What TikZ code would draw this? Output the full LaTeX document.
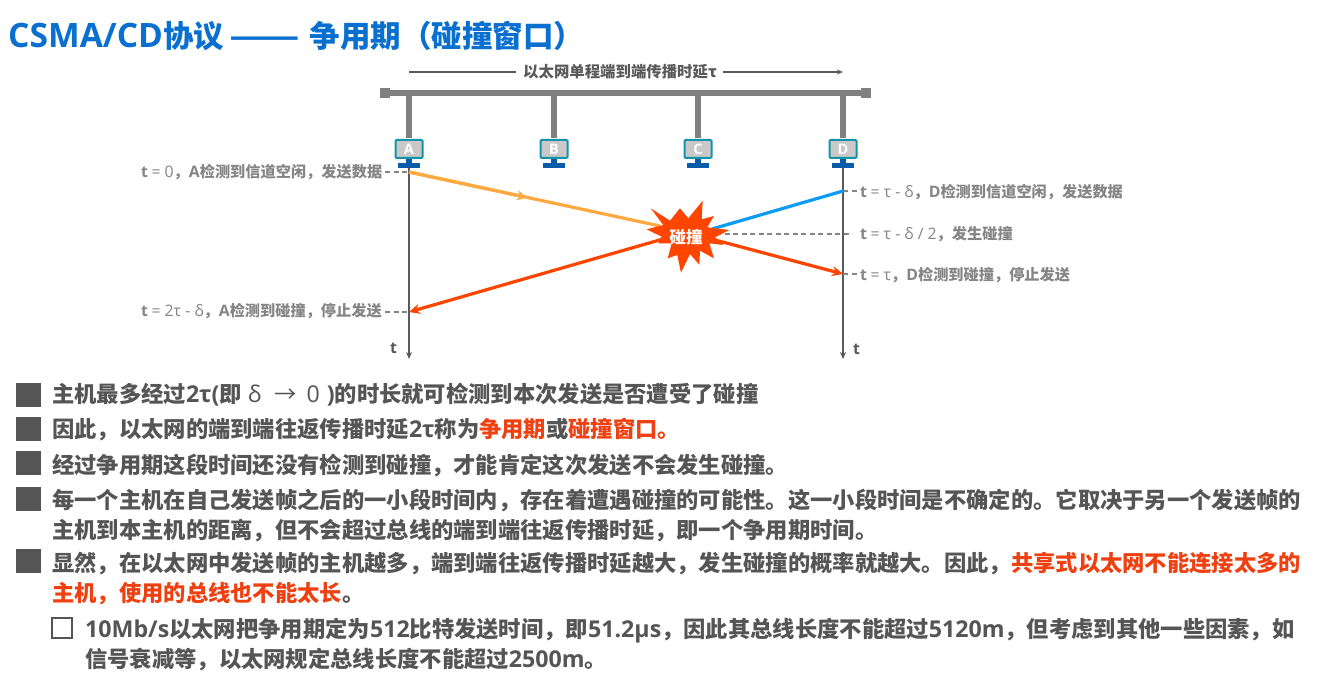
\documentclass[tikz,border=0pt]{standalone}
\usepackage{fontspec}
\usepackage{graphicx}
\setmainfont{Noto Sans CJK SC}
\newfontfamily\latf[Scale=1.04]{Open Sans}
\newcommand{\lat}[1]{{\latf #1}}
\definecolor{titleblue}{HTML}{0A70D0}
\definecolor{bodygray}{HTML}{555555}
\definecolor{labgray}{HTML}{858585}
\definecolor{busgray}{HTML}{808080}
\definecolor{axisgray}{HTML}{595959}
\definecolor{hot}{HTML}{FF4500}
\definecolor{hottext}{HTML}{EE4010}
\definecolor{amber}{HTML}{FFA940}
\definecolor{sky}{HTML}{0A9BF5}
\definecolor{teal0}{HTML}{1593A8}
\definecolor{screen0}{HTML}{C9C9C9}
\definecolor{navy0}{HTML}{0B5CA8}
\usetikzlibrary{arrows.meta}
\tikzset{
  x=1pt,y=-1pt,
  titlet/.style={anchor=base west,inner sep=0,font=\bfseries\fontsize{30.5}{31}\selectfont,text=titleblue},
  bodyt/.style={anchor=base west,inner sep=0,font=\bfseries\fontsize{22.3}{23}\selectfont,text=bodygray},
  labt/.style={anchor=base west,inner sep=0,font=\bfseries\fontsize{15.2}{16}\selectfont,text=labgray},
  bullet/.style={fill=bodygray,draw=none,minimum width=25pt,minimum height=24pt,inner sep=0},
  busline/.style={draw=busgray,line width=6pt},
  axisline/.style={draw=axisgray,line width=1.6pt,-{Stealth[length=7pt,width=6pt]}},
  dashl/.style={draw=labgray,line width=1.2pt,dash pattern=on 5pt off 3.5pt},
  thick0/.style={line width=3.2pt},
  tipp/.style={-{Stealth[length=11pt,width=10pt]}},
}
\newcommand{\mon}[3]{% name, x, letter
  \coordinate (#1top) at (#2,138);
  \draw[busline] (#2,93) -- (#1top);
  \fill[navy0] (#2-11,163.5) rectangle (#2+11,168);
  \fill[navy0] (#2-3,158) rectangle (#2+3,165);
  \node[draw=teal0,line width=2pt,fill=screen0,rounded corners=1pt,minimum width=27pt,minimum height=18pt,inner sep=0,text=white,font=\bfseries\fontsize{14}{14}\selectfont\latf] (#1) at (#2,149) {#3};
}
\begin{document}
\begin{tikzpicture}
\useasboundingbox (0,0) rectangle (1320,674);
\fill[white] (0,0) rectangle (1320,674);
\node[titlet] (title) at (8,48) {{\fontsize{32.3}{33}\selectfont\lat{CSMA/CD}}协议\hspace{5pt}\scalebox{1.35}[1]{——}\hspace{10pt}争用期（碰撞窗口）};
% bus
\node[fill=busgray,minimum width=10pt,minimum height=10pt,inner sep=0] (busL) at (385,93) {};
\node[fill=busgray,minimum width=10pt,minimum height=10pt,inner sep=0] (busR) at (866,93) {};
\draw[busline] (busL) -- (busR);
\mon{A}{409}{A}\mon{B}{554}{B}\mon{C}{698}{C}\mon{D}{843}{D}
% top span
\node[anchor=center,inner sep=0,font=\bfseries\fontsize{15.4}{16}\selectfont,text=axisgray] (span) at (620,72) {以太网单程端到端传播时延τ};
\coordinate (spanL) at (409,72);\coordinate (spanR) at (843,72);
\draw[draw=axisgray,line width=1.2pt] (spanL) -- (516,72);
\draw[draw=axisgray,line width=1.2pt,-{Stealth[length=6pt,width=5pt]}] (723,72) -- (spanR);
% axes
\coordinate (Aend) at (409,359);\coordinate (Dend) at (843,359);
\draw[axisline] (A.south |- 0,168) -- (Aend);
\draw[axisline] (D.south |- 0,168) -- (Dend);
\node[labt,text=axisgray] (tA) at (390,353) {\lat{t}};
\node[labt,text=axisgray] (tD) at (853,354) {\lat{t}};
% events
\coordinate (a0) at (409,172);\coordinate (a1) at (409,312);
\coordinate (d0) at (843,191);\coordinate (d1) at (843,274);
\coordinate (hitL) at (660,226);\coordinate (hitR) at (712,229);
\coordinate (mid) at (716,234);
\draw[dashl] (385,172) -- (a0);
\draw[dashl] (385,312) -- (a1);
\draw[dashl] (d0) -- (858,191);
\draw[dashl] (mid) -- (852,234);
\draw[dashl] (d1) -- (858,274);
\draw[amber,thick0] (a0) -- (hitL);
\draw[amber,thick0,-{Stealth[length=10pt,width=10pt]}] (a0) -- (527,197.5);
\draw[sky,thick0] (d0) -- (hitR);
\draw[hot,thick0,tipp] (700,236) -- (d1);
\draw[hot,thick0,tipp] (670,237) -- (a1);
% burst
\fill[hot] (650.7,208.3)--(670,220.7)--(680,208.3)--(688.3,218.3)--(702.7,200.7)--(701.7,219.3)--(714,216)--(707.3,227.3)--(729.3,230)--(715,237.3)--(723.3,245)--(709.3,243.3)--(714,258.3)--(700,250.7)--(699.3,264.7)--(690,254)--(681,272.7)--(677.3,255)--(667.7,258.3)--(671.7,243.3)--(658.3,243.3)--(661.7,236.7)--(646.7,229.3)--(663.3,225)--cycle;
\node[inner sep=0,text=white,font=\bfseries\fontsize{16.5}{17}\selectfont] (burst) at (686,237) {碰撞};
% labels
\node[labt] (l1) at (141,177) {\lat{t} \mdseries\lat{= 0}\bfseries，\lat{A}检测到信道空闲，发送数据};
\node[labt] (l2) at (141,316) {\lat{t} \mdseries\lat{= 2τ - δ}\bfseries，\lat{A}检测到碰撞，停止发送};
\node[labt] (l3) at (860,197) {\lat{t} \mdseries\lat{= τ - δ}\bfseries，\lat{D}检测到信道空闲，发送数据};
\node[labt] (l4) at (860,239) {\lat{t} \mdseries\lat{= τ - δ / 2}\bfseries，发生碰撞};
\node[labt] (l5) at (860,280) {\lat{t} \mdseries\lat{= τ}\bfseries，\lat{D}检测到碰撞，停止发送};
% bullets
\node[bullet] (b1) at (28.5,394.5) {};
\node[bullet] (b2) at (28.5,429) {};
\node[bullet] (b3) at (28.5,463) {};
\node[bullet] (b4) at (28.5,499) {};
\node[bullet] (b5) at (28.5,561) {};
\node[draw=bodygray,line width=2.8pt,minimum width=20pt,minimum height=20pt,inner sep=0] (b6) at (62,628) {};
% body text
\node[bodyt] (t1) at (52,402) {主机最多经过\lat{2τ(}即\hspace{6pt}\mdseries\lat{δ}\hspace{13pt}→\hspace{10pt}\lat{0}\hspace{7pt}\bfseries\lat{)}的时长就可检测到本次发送是否遭受了碰撞};
\node[bodyt] (t2) at (52,437) {因此，以太网的端到端往返传播时延\lat{2τ}称为\textcolor{hottext}{争用期}或\textcolor{hottext}{碰撞窗口。}};
\node[bodyt] (t3) at (52,473) {经过争用期这段时间还没有检测到碰撞，才能肯定这次发送不会发生碰撞。};
\node[bodyt] (t4) at (52,508) {每一个主机在自己发送帧之后的一小段时间内，存在着遭遇碰撞的可能性。这一小段时间是不确定的。它取决于另一个发送帧的};
\node[bodyt] (t5) at (52,538) {主机到本主机的距离，但不会超过总线的端到端往返传播时延，即一个争用期时间。};
\node[bodyt] (t6) at (52,571) {显然，在以太网中发送帧的主机越多，端到端往返传播时延越大，发生碰撞的概率就越大。因此，\textcolor{hottext}{共享式以太网不能连接太多的}};
\node[bodyt] (t7) at (52,601) {\textcolor{hottext}{主机，使用的总线也不能太长}。};
\node[bodyt] (t8) at (85,637) {\lat{10Mb/s}以太网把争用期定为\lat{512}比特发送时间，即\lat{51.2μs}，因此其总线长度不能超过\lat{5120m}，但考虑到其他一些因素，如};
\node[bodyt] (t9) at (85,667) {信号衰减等，以太网规定总线长度不能超过\lat{2500m}。};
\end{tikzpicture}
\end{document}
